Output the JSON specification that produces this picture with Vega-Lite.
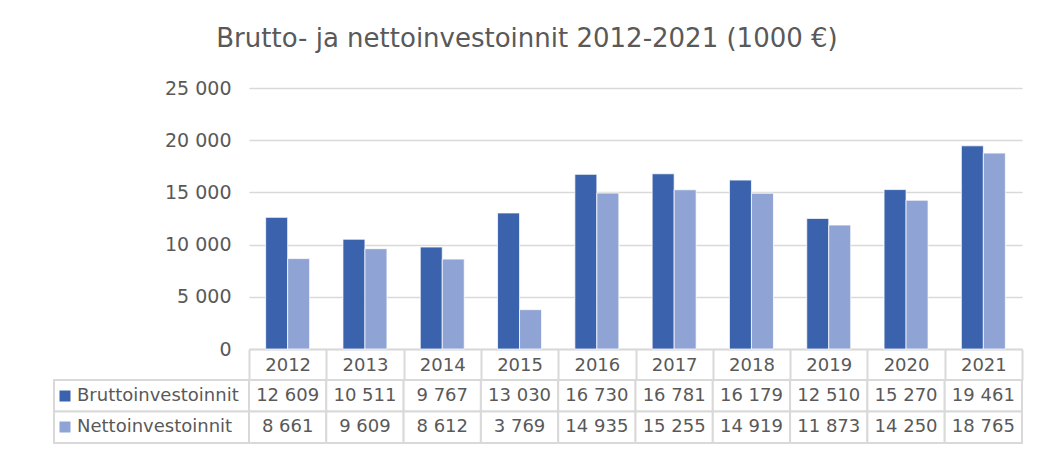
{
  "$schema": "https://vega.github.io/schema/vega-lite/v6.json",
  "padding": {"left": 53, "top": 26, "right": 18, "bottom": 5},
  "config": {
    "locale": {"number": {"decimal": ",", "thousands": " ", "grouping": [3], "currency": ["", " €"]}},
    "view": {"stroke": null},
    "font": "DejaVu Sans",
    "text": {"font": "DejaVu Sans"}
  },
  "title": {
    "text": "Brutto- ja nettoinvestoinnit 2012-2021 (1000 €)",
    "fontSize": 26,
    "fontWeight": "normal",
    "color": "#595959",
    "anchor": "middle",
    "dx": -11,
    "offset": 27
  },
  "resolve": {"scale": {"color": "independent"}, "legend": {"color": "independent"}},
  "datasets": {
    "inv": [
      {"year": "2012", "series": "Bruttoinvestoinnit", "value": 12609},
      {"year": "2013", "series": "Bruttoinvestoinnit", "value": 10511},
      {"year": "2014", "series": "Bruttoinvestoinnit", "value": 9767},
      {"year": "2015", "series": "Bruttoinvestoinnit", "value": 13030},
      {"year": "2016", "series": "Bruttoinvestoinnit", "value": 16730},
      {"year": "2017", "series": "Bruttoinvestoinnit", "value": 16781},
      {"year": "2018", "series": "Bruttoinvestoinnit", "value": 16179},
      {"year": "2019", "series": "Bruttoinvestoinnit", "value": 12510},
      {"year": "2020", "series": "Bruttoinvestoinnit", "value": 15270},
      {"year": "2021", "series": "Bruttoinvestoinnit", "value": 19461},
      {"year": "2012", "series": "Nettoinvestoinnit", "value": 8661},
      {"year": "2013", "series": "Nettoinvestoinnit", "value": 9609},
      {"year": "2014", "series": "Nettoinvestoinnit", "value": 8612},
      {"year": "2015", "series": "Nettoinvestoinnit", "value": 3769},
      {"year": "2016", "series": "Nettoinvestoinnit", "value": 14935},
      {"year": "2017", "series": "Nettoinvestoinnit", "value": 15255},
      {"year": "2018", "series": "Nettoinvestoinnit", "value": 14919},
      {"year": "2019", "series": "Nettoinvestoinnit", "value": 11873},
      {"year": "2020", "series": "Nettoinvestoinnit", "value": 14250},
      {"year": "2021", "series": "Nettoinvestoinnit", "value": 18765}
    ]
  },
  "columns": 2,
  "align": "each",
  "bounds": "flush",
  "spacing": {"row": 31, "column": 0},
  "concat": [
    {
      "width": 195,
      "height": 261,
      "data": {"values": [{}]},
      "mark": {"type": "text"},
      "encoding": {"text": {"value": ""}}
    },
    {
      "width": 773,
      "height": 261,
      "data": {"name": "inv"},
      "mark": {"type": "bar", "stroke": "white", "strokeWidth": 0.75},
      "encoding": {
        "x": {
          "field": "year", "type": "nominal",
          "scale": {"padding": 0},
          "axis": {
            "title": null, "labelAngle": 0, "grid": false,
            "domainColor": "#d9d9d9", "domainWidth": 2,
            "ticks": true, "tickBand": "extent", "tickSize": 31, "tickColor": "#d9d9d9", "tickWidth": 2,
            "labelFontSize": 18, "labelColor": "#595959", "labelBaseline": "middle", "labelPadding": -15
          }
        },
        "xOffset": {
          "field": "series", "type": "nominal", "sort": ["Bruttoinvestoinnit", "Nettoinvestoinnit"],
          "scale": {"paddingInner": 0, "paddingOuter": 0.757}
        },
        "y": {
          "field": "value", "type": "quantitative",
          "scale": {"domain": [0, 25000]},
          "axis": {
            "title": null, "values": [0, 5000, 10000, 15000, 20000, 25000], "format": ",d",
            "domain": false, "ticks": false, "labelPadding": 18,
            "gridColor": "#d9d9d9", "gridWidth": 1.5,
            "labelFontSize": 19, "labelColor": "#595959"
          }
        },
        "color": {
          "field": "series", "type": "nominal",
          "scale": {"domain": ["Bruttoinvestoinnit", "Nettoinvestoinnit"], "range": ["#3A62AD", "#8FA4D4"]},
          "legend": null
        }
      }
    },
    {
      "width": 195,
      "height": 63,
      "data": {"values": [{"series": "Bruttoinvestoinnit"}, {"series": "Nettoinvestoinnit"}]},
      "encoding": {
        "y": {"field": "series", "type": "nominal", "axis": null, "scale": {"padding": 0}}
      },
      "layer": [
        {"mark": {"type": "rect", "fill": "white", "stroke": "#d9d9d9", "strokeWidth": 2}},
        {
          "mark": {"type": "square", "opacity": 0},
          "encoding": {
            "color": {
              "field": "series", "type": "nominal",
              "scale": {"domain": ["Bruttoinvestoinnit", "Nettoinvestoinnit"], "range": ["#3A62AD", "#8FA4D4"]},
              "legend": {
                "orient": "top-left", "title": " ", "titleFontSize": 1, "titlePadding": 4,
                "symbolType": "square", "symbolSize": 121,
                "symbolOpacity": 1, "symbolStrokeWidth": 0, "labelFontSize": 18, "labelColor": "#595959",
                "labelOffset": 3, "rowPadding": 13, "offset": 2, "padding": 0, "labelLimit": 300
              }
            }
          }
        }
      ]
    },
    {
      "width": 773,
      "height": 63,
      "data": {"name": "inv"},
      "encoding": {
        "x": {"field": "year", "type": "nominal", "axis": null, "scale": {"padding": 0}},
        "y": {"field": "series", "type": "nominal", "axis": null, "scale": {"padding": 0}}
      },
      "layer": [
        {"mark": {"type": "rect", "fill": "white", "stroke": "#d9d9d9", "strokeWidth": 2}},
        {
          "mark": {"type": "text", "fontSize": 18, "color": "#595959"},
          "encoding": {"text": {"field": "value", "type": "quantitative", "format": ",d"}}
        }
      ]
    }
  ]
}
